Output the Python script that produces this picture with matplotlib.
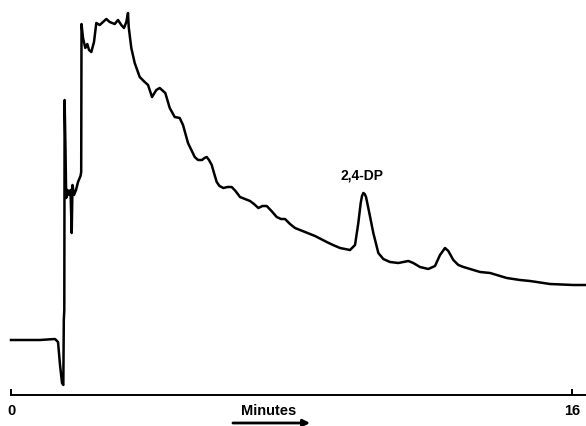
import matplotlib.pyplot as plt

plt.rcParams["font.family"] = ["Liberation Sans", "DejaVu Sans"]

# detector trace (time in minutes, signal in arbitrary units)
minutes = [0.000, 0.827, 1.255, 1.341, 1.398, 1.455, 1.492, 1.506, 1.520, 1.529,
           1.554, 1.574, 1.612, 1.654, 1.697, 1.731, 1.754, 1.797, 1.854, 1.911,
           1.982, 2.002, 2.011, 2.054, 2.119, 2.176, 2.225, 2.290, 2.367, 2.433,
           2.530, 2.624, 2.718, 2.815, 2.958, 3.052, 3.146, 3.223, 3.289, 3.337,
           3.357, 3.431, 3.528, 3.671, 3.813, 3.908, 4.022, 4.144, 4.241, 4.401,
           4.527, 4.669, 4.812, 4.906, 5.048, 5.240, 5.334, 5.448, 5.519, 5.582,
           5.647, 5.725, 5.790, 5.867, 5.947, 6.056, 6.175, 6.295, 6.403, 6.532,
           6.674, 6.817, 6.931, 7.054, 7.173, 7.293, 7.430, 7.578, 7.701, 7.815,
           7.958, 8.100, 8.386, 8.671, 9.005, 9.184, 9.384, 9.669, 9.812, 9.906,
           9.974, 10.011, 10.049, 10.088, 10.126, 10.220, 10.334, 10.477, 10.619, 10.810,
           11.047, 11.332, 11.474, 11.665, 11.902, 12.093, 12.236, 12.379, 12.473, 12.616,
           12.759, 12.905, 13.381, 13.666, 14.139, 14.518, 14.803, 15.374, 16.038, 16.400]
signal = [0, 0, 1, -2, -25, -43, -45, 20, 30, 240,
          190, 142, 150, 145, 150, 107, 155, 145, 150, 158,
          164, 168, 316, 302, 292, 296, 290, 288, 298, 317,
          315, 318, 321, 318, 316, 320, 315, 312, 318, 327,
          313, 292, 277, 263, 258, 255, 243, 250, 252, 247,
          232, 223, 222, 215, 197, 183, 180, 180, 182, 183,
          180, 175, 167, 158, 154, 152, 153, 153, 149, 143,
          141, 139, 136, 132, 134, 134, 129, 123, 121, 121,
          116, 112, 108, 104, 98, 95, 92, 90, 95, 117,
          137, 144, 147, 146, 143, 127, 107, 87, 81, 78,
          77, 79, 77, 73, 71, 74, 85, 92, 89, 80,
          75, 73, 68, 67, 62, 60, 59, 56, 55, 55]

tick_pos = [0, 16]
tick_labels = ["0", "16"]
peak_name = "2,4-DP"
peak_time = 10.011

fig = plt.figure(figsize=(5.86, 4.26), dpi=100)
ax = fig.add_axes([0, 0, 1, 1])
ax.plot(minutes, signal, color="black", lw=1.8, solid_joinstyle="round")

ax.set_xlim(-0.314, 16.4)
ax.set_ylim(-86, 340)

for side in ["top", "left", "right"]:
    ax.spines[side].set_visible(False)
ax.spines["bottom"].set_position(("data", -54.5))
ax.spines["bottom"].set_linewidth(1.4)
ax.spines["bottom"].set_bounds(0, 16.4)
ax.set_yticks([])
ax.set_xticks(tick_pos, tick_labels, fontsize=10.5, fontweight="bold")
ax.tick_params(axis="x", direction="in", length=4, width=1.4, pad=7)

ax.text(peak_time, 161, peak_name, ha="center", va="baseline",
        fontsize=10, fontweight="bold")
ax.text(7.34, -75, "Minutes", ha="center", va="baseline",
        fontsize=10.5, fontweight="bold")
ax.annotate("", xy=(8.53, -83), xytext=(6.33, -83),
            arrowprops=dict(arrowstyle="-|>", lw=2, color="black",
                            mutation_scale=10, shrinkA=0, shrinkB=0))

fig.savefig("out.png", dpi=100)
